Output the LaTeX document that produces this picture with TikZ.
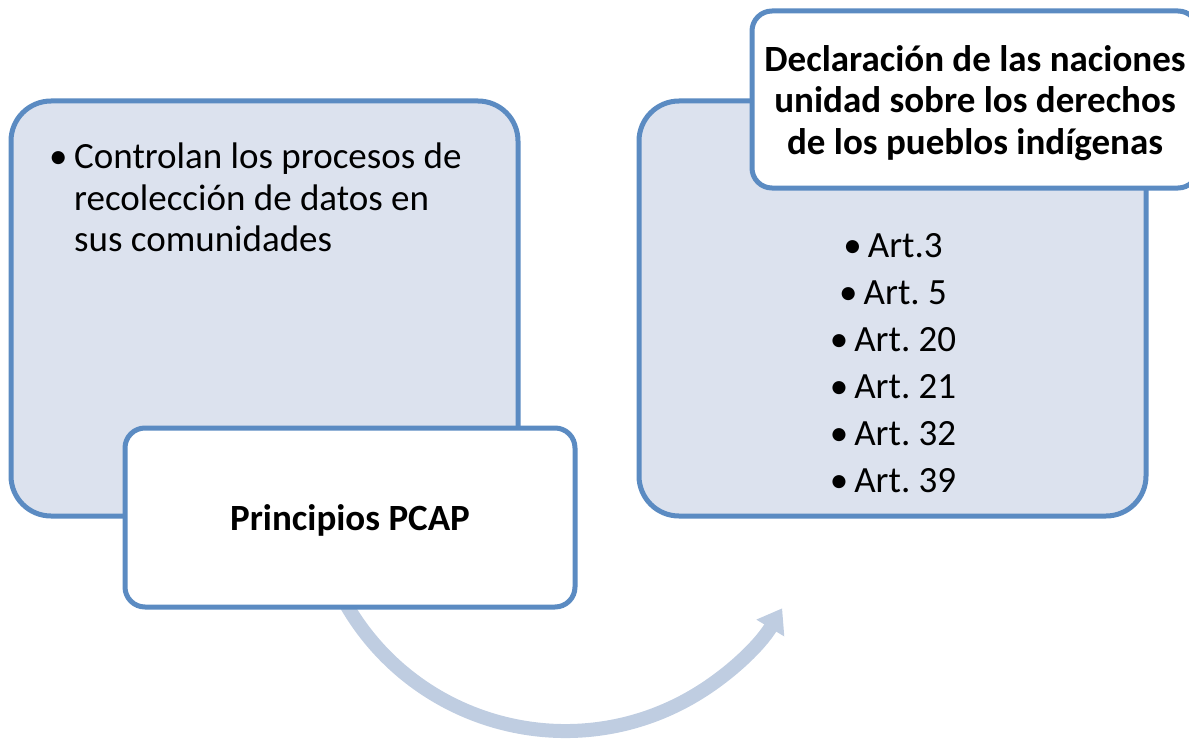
\documentclass[tikz,border=0pt]{standalone}
\usepackage{fontspec}
\setmainfont{Carlito}
\usetikzlibrary{arrows.meta}
\definecolor{bordc}{RGB}{91,139,194}
\definecolor{fillc}{RGB}{220,226,238}
\definecolor{arrc}{RGB}{191,205,225}
\tikzset{
  bigbox/.style={draw=bordc, line width=5pt, fill=fillc, rounded corners=40pt, inner sep=0pt},
  smallbox/.style={draw=bordc, line width=5pt, fill=white, rounded corners=20pt, inner sep=0pt},
  bodytext/.style={inner sep=0pt, font=\fontsize{37}{41.5}\selectfont},
  titletext/.style={inner sep=0pt, font=\fontsize{37}{41.5}\selectfont\bfseries},
}
\frenchspacing
\begin{document}
\begin{tikzpicture}[x=1pt,y=-1pt]
\useasboundingbox (0,0) rectangle (1189,741);
\clip (0,0) rectangle (1189,741);
% curved arrow
\coordinate (ctr) at (567,477);
\draw[arrc, line width=14pt, -{Triangle[length=23pt,width=31pt]}]
  (ctr) ++(150:255) coordinate (astart) arc[start angle=150, end angle=31, radius=253];
% left group
\node[bigbox, minimum width=507pt, minimum height=415pt] (left) at (264.5,308.5) {};
\node[bodytext, anchor=north west, align=left] (lefttxt) at (49,143)
  {\makebox[25pt][l]{\textbullet}Controlan los procesos de\\
   \hspace*{25pt}recolección de datos en\\
   \hspace*{25pt}sus comunidades};
\node[smallbox, minimum width=450pt, minimum height=179pt] (pcap) at (350,517.5) {};
\node[titletext] (pcaptxt) at (350,520) {Principios PCAP};
% right group
\node[bigbox, minimum width=507pt, minimum height=415pt] (right) at (892.5,308.5) {};
\node[bodytext, font=\fontsize{37}{47}\selectfont, align=center, anchor=north] (arts) at (893,233)
  {\textbullet\,Art.3\\ \textbullet\,Art. 5\\ \textbullet\,Art. 20\\ \textbullet\,Art. 21\\ \textbullet\,Art. 32\\ \textbullet\,Art. 39};
\node[smallbox, minimum width=446pt, minimum height=177pt] (decl) at (975,99.5) {};
\node[titletext, align=center] (decltxt) at (975,103)
  {Declaración de las naciones\\ unidad sobre los derechos\\ de los pueblos indígenas};
\end{tikzpicture}
\end{document}
